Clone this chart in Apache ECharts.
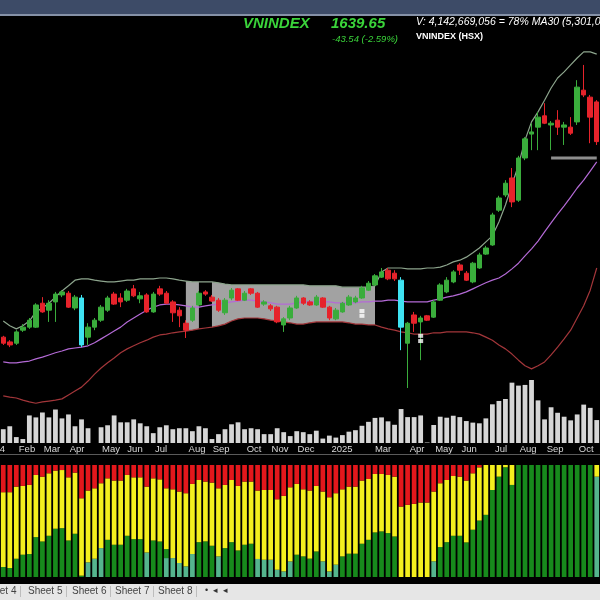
<!DOCTYPE html>
<html><head><meta charset="utf-8">
<script src="https://cdn.jsdelivr.net/npm/echarts@6/dist/echarts.min.js"></script>
<style>html,body{margin:0;padding:0;background:#000;overflow:hidden}#c{width:600px;height:600px}</style>
</head><body><div id="c"></div>
<script>
// ---------- DATA ----------
const weeks = Array.from({length: 92}, (_, i) => 'W' + (i + 1));
// weekly candles [open, close, low, high]
const ohlc = [
[1190,1176,1172,1193],[1179,1172,1167,1183],[1176,1202,1172,1206],[1206,1213,1202,1220],[1213,1229,1209,1234],
[1213,1264,1211,1268],[1268,1248,1246,1282],[1252,1268,1225,1275],[1271,1289,1225,1294],[1287,1294,1282,1298],
[1291,1259,1257,1296],[1257,1282,1252,1287],[1280,1172,1167,1287],[1190,1213,1172,1222],[1213,1229,1206,1234],
[1229,1259,1225,1264],[1252,1280,1248,1285],[1289,1266,1264,1294],[1280,1271,1259,1291],[1275,1296,1271,1301],
[1301,1285,1282,1310],[1278,1285,1268,1294],[1287,1248,1246,1291],[1248,1289,1246,1294],[1301,1289,1285,1308],
[1291,1268,1266,1296],[1271,1246,1225,1275],[1252,1239,1213,1259],[1222,1206,1188,1229],[1229,1257,1225,1262],
[1264,1291,1262,1296],[1294,1289,1285,1298],[1282,1273,1271,1287],[1275,1252,1248,1280],[1246,1275,1241,1280],
[1280,1298,1275,1303],[1301,1275,1273,1303],[1275,1291,1273,1296],[1301,1291,1287,1303],[1291,1259,1257,1294],
[1266,1271,1262,1275],[1262,1255,1250,1266],[1259,1225,1222,1262],[1218,1232,1202,1236],[1234,1257,1229,1262],
[1257,1280,1255,1285],[1280,1268,1264,1282],[1271,1264,1262,1275],[1264,1282,1262,1287],[1280,1259,1257,1282],
[1259,1234,1229,1262],[1232,1252,1229,1257],[1248,1268,1246,1271],[1264,1282,1262,1287],[1271,1280,1268,1285],
[1280,1303,1278,1308],[1298,1314,1296,1319],[1310,1331,1308,1335],[1328,1340,1326,1349],[1344,1324,1321,1349],
[1337,1324,1319,1344],[1321,1213,1160,1328],[1176,1222,1073,1225],[1241,1222,1202,1248],[1225,1234,1137,1239],
[1239,1229,1227,1241],[1236,1271,1234,1275],[1275,1310,1273,1314],[1294,1321,1291,1328],[1317,1340,1314,1344],
[1356,1344,1333,1360],[1337,1321,1319,1342],[1317,1360,1314,1363],[1349,1379,1347,1384],[1381,1395,1379,1400],
[1402,1471,1400,1476],[1482,1510,1478,1515],[1517,1544,1512,1551],[1556,1501,1489,1579],[1505,1602,1501,1607],
[1602,1646,1597,1650],[1657,1662,1620,1682],[1673,1696,1620,1708],[1699,1682,1680,1728],[1678,1682,1620,1687],
[1689,1673,1655,1712],[1673,1678,1632,1685],[1673,1659,1655,1696],[1685,1765,1678,1781],[1758,1747,1742,1816],
[1742,1696,1636,1747],[1731,1639.65,1632,1735]
];
const cyanWeeks = [12, 61];
const upperBand = [1227,1216,1209,1216,1227,1248,1257,1268,1282,1296,1308,1321,1324,1324,1321,1319,1317,1317,1319,1321,
1321,1324,1324,1324,1326,1326,1324,1321,1319,1317,1317,1317,1317,1315,1312,1310,1310,1310,1310,1310,
1310,1310,1310,1310,1310,1310,1310,1308,1308,1308,1308,1308,1305,1305,1305,1305,1305,1308,1340,1349,
1349,1349,1347,1347,1347,1349,1349,1351,1356,1363,1367,1374,1384,1395,1409,1423,1455,1494,1540,1586,
1643,1685,1708,1735,1763,1786,1800,1816,1832,1846,1846,1841];
const midBand = [1133,1131,1131,1133,1135,1140,1144,1149,1154,1158,1163,1165,1167,1170,1177,1186,1195,1204,1213,1225,
1234,1243,1252,1259,1264,1266,1266,1264,1262,1259,1259,1262,1264,1266,1269,1271,1273,1275,1275,1273,
1271,1269,1266,1266,1266,1269,1271,1271,1271,1271,1271,1269,1269,1269,1269,1271,1271,1273,1273,1275,
1275,1273,1271,1271,1271,1271,1275,1278,1282,1285,1289,1294,1301,1308,1315,1321,1326,1335,1347,1360,
1377,1393,1411,1432,1453,1473,1492,1512,1533,1551,1572,1593];
const lowerBand = [1055,1052,1050,1045,1041,1038,1041,1043,1045,1048,1057,1066,1075,1089,1105,1119,1131,1142,1154,1163,
1170,1177,1183,1190,1195,1197,1200,1202,1204,1206,1209,1211,1213,1216,1220,1227,1232,1234,1234,1234,
1232,1229,1227,1225,1223,1220,1220,1223,1225,1225,1225,1225,1225,1223,1220,1220,1218,1218,1213,1209,
1206,1202,1200,1197,1197,1197,1200,1200,1202,1202,1202,1202,1200,1197,1190,1183,1172,1163,1151,1137,
1124,1117,1124,1133,1149,1167,1186,1206,1234,1262,1298,1349];
const squeezeRanges = [[28, 30], [32, 57]];
const supportLevel = 1602, supportFromWeek = 84;
const signalMarks = [[55, 1250], [55, 1239], [64, 1193], [64, 1181]];
// weekly volume (millions of shares)
const volume = [1400,1700,600,400,2800,2600,3100,2600,3400,2500,2900,1700,2400,1500,null,1600,1800,2800,2100,2100,
2400,2000,1700,1000,1600,1800,1400,1500,1500,1200,1700,1500,400,900,1400,1900,2100,1400,1500,1400,
900,900,1500,1100,700,1200,1100,900,1250,450,750,550,800,1150,1300,1750,2150,2550,2600,2200,
1850,3450,2630,2630,2800,50,1830,2670,2570,2770,2630,2230,2070,2000,2500,3930,4270,4470,6130,5830,
5900,6400,4330,2400,3630,3070,2670,2300,2900,3900,3570,2330];
// market breadth shares (%)
const breadthRed = [24.3,24.3,19.3,18.7,17.8,8.9,10.4,7.4,5.0,4.5,11.0,6.8,29.7,22.8,20.8,16.3,11.9,13.9,13.9,8.9,
11.0,11.0,19.3,11.9,12.8,20.8,21.7,23.7,25.2,16.9,13.4,14.8,15.7,20.8,17.8,13.4,18.7,14.8,14.8,22.8,
22.3,22.3,30.6,27.6,19.9,16.9,21.7,22.8,18.7,23.7,28.8,25.2,21.7,19.3,19.3,13.9,12.5,8.0,8.0,8.9,
10.4,37.1,35.6,34.7,33.5,33.5,23.7,16.3,13.4,9.8,10.4,13.9,7.4,2.1,0,0,0,0,0,0,
0,0,0,0,0,0,0,0,0,0,0,0];
const breadthYellow = [66.8,67.7,64.4,61.4,61.7,55.5,57.9,55.8,51.9,51.9,56.4,54.6,69.1,64.1,62.9,57.9,54.9,57.3,57.3,54.3,
55.2,55.2,58.8,55.5,55.5,54.3,61.4,63.8,65.3,62.6,55.5,53.4,56.4,60.8,56.4,55.5,57.6,56.4,55.5,61.1,
62.3,62.3,62.9,67.4,66.2,63.2,59.9,60.8,58.5,62.3,66.2,63.8,59.9,59.9,59.9,56.4,54.3,52.2,51.3,51.9,
53.4,62.9,64.4,65.3,66.5,66.5,62.3,57.0,55.5,53.4,52.8,55.2,50.4,47.5,44.5,22.3,10.4,2.0,17.8,0,
0,0,0,0,0,0,0,0,0,0,0,10.4];
const breadthGreen = [8.9,8.0,16.3,19.9,20.5,35.6,31.7,36.8,43.1,43.6,32.6,38.6,1.2,0,0,0,33.2,28.8,28.8,36.8,
33.8,33.8,0,32.6,31.7,8.0,0,0,0,0,31.1,31.8,27.9,0,25.8,31.1,23.7,28.8,29.7,0,
0,0,0,0,0,19.9,18.4,16.4,22.8,0,0,0,18.4,20.8,20.8,29.7,33.2,39.8,40.7,39.2,
36.2,0,0,0,0,0,0,26.7,31.1,36.8,36.8,30.9,42.2,50.4,55.5,77.7,89.6,98.0,82.2,100,
100,100,100,100,100,100,100,100,100,100,100,0];
const breadthTeal = [0,0,0,0,0,0,0,0,0,0,0,0,0,13.1,16.3,25.8,0,0,0,0,
0,0,21.9,0,0,16.9,16.9,12.5,9.5,20.5,0,0,0,18.4,0,0,0,0,0,16.1,
15.4,15.4,6.5,5.0,13.9,0,0,0,0,14.0,5.0,11.0,0,0,0,0,0,0,0,0,
0,0,0,0,0,0,14.0,0,0,0,0,0,0,0,0,0,0,0,0,0,
0,0,0,0,0,0,0,0,0,0,0,89.6];
// month tick labels at fractional week positions (year label is cut by the left edge as in the original)
const yearLabel = '2024', yearLabelPos = -0.5;
const tickPos = [3.64,7.47,11.31,16.52,20.2,24.19,29.71,33.4,38.46,42.44,46.43,51.95,58.24,63.45,67.6,71.43,76.34,80.48,84.62,89.38];
const tickText = ['Feb','Mar','Apr','May','Jun','Jul','Aug','Sep','Oct','Nov','Dec','2025','Mar','Apr','May','Jun','Jul','Aug','Sep','Oct'];
const sheetTabs = ['Sheet 4','Sheet 5','Sheet 6','Sheet 7','Sheet 8'];

// ---------- BUILD ----------
const UP = '#3aad3c', DOWN = '#e6232b', CY = '#3fe3f2';
const FONT = 'Liberation Sans, Arial, sans-serif';
const LBL = 9.5;
const inRange = i => squeezeRanges.some(r => i >= r[0] && i <= r[1]);
const fillBase = lowerBand.map((v, i) => inRange(i) ? v : null);
const fillSpan = upperBand.map((v, i) => inRange(i) ? v - lowerBand[i] : null);
const support = weeks.map((_, i) => i >= supportFromWeek ? supportLevel : null);
const candleData = ohlc.map((d, i) => cyanWeeks.includes(i)
  ? {value: d, itemStyle: {color: CY, color0: CY, borderColor: CY, borderColor0: CY}} : d);

const hidX = (grid) => ({type: 'category', gridIndex: grid, data: weeks, show: false, boundaryGap: true, position: 'bottom'});
const hidY = (grid, min, max) => ({type: 'value', gridIndex: grid, min, max, show: false});

const tabGraphics = [];
const tabX = [-18, 28, 72, 115, 158];
sheetTabs.forEach((t, k) => {
  tabGraphics.push({type: 'text', x: tabX[k], y: 591, style: {text: t, fill: '#444', fontSize: 10, fontFamily: FONT, verticalAlign: 'middle'}});
  tabGraphics.push({type: 'rect', shape: {x: tabX[k] + 38, y: 586, width: 1, height: 11}, style: {fill: '#bdbdbd'}});
});

const chart = echarts.init(document.getElementById('c'), null, {renderer: 'canvas'});
chart.setOption({
  backgroundColor: '#000',
  animation: false,
  grid: [
    {left: 0, right: 0, top: 28.43, bottom: 180.26},
    {left: 0, right: 0, top: 380, bottom: 157},
    {left: 0, right: 0, top: 465, bottom: 23}
  ],
  xAxis: [
    hidX(0), hidX(1),
    {type: 'value', gridIndex: 1, min: -0.5, max: 91.5, position: 'bottom', offset: 0,
     axisLine: {show: false}, axisTick: {show: false}, splitLine: {show: false},
     axisLabel: {customValues: tickPos, margin: 1.5,
       color: '#d9d9d9', fontSize: LBL, fontFamily: FONT,
       formatter: v => {
         const j = tickPos.findIndex(p => Math.abs(p - v) < 1e-6);
         return j < 0 ? '' : tickText[j];
       }
     }},
    hidX(2)
  ],
  yAxis: [hidY(0, 1000, 1900), hidY(1, 0, 6400), hidY(2, 0, 100)],
  series: [
    {type: 'line', xAxisIndex: 0, yAxisIndex: 0, stack: 'sq', data: fillBase, symbol: 'none', silent: true,
     lineStyle: {width: 0, opacity: 0}, z: 1},
    {type: 'line', xAxisIndex: 0, yAxisIndex: 0, stack: 'sq', data: fillSpan, symbol: 'none', silent: true,
     lineStyle: {width: 0, opacity: 0}, areaStyle: {color: '#a2a2a2', opacity: 1}, z: 1},
    {type: 'line', xAxisIndex: 0, yAxisIndex: 0, data: upperBand, symbol: 'none', lineStyle: {color: '#8da58d', width: 1.2}, z: 2},
    {type: 'line', xAxisIndex: 0, yAxisIndex: 0, data: midBand, symbol: 'none', lineStyle: {color: '#b46ad6', width: 1.2}, z: 2},
    {type: 'line', xAxisIndex: 0, yAxisIndex: 0, data: lowerBand, symbol: 'none', lineStyle: {color: '#a3363a', width: 1.2}, z: 2},
    {type: 'line', xAxisIndex: 0, yAxisIndex: 0, data: support, symbol: 'none', lineStyle: {color: '#8e8e8e', width: 3}, z: 2},
    {type: 'candlestick', xAxisIndex: 0, yAxisIndex: 0, data: candleData, barWidth: 5, z: 3,
     itemStyle: {color: UP, color0: DOWN, borderColor: UP, borderColor0: DOWN, borderWidth: 1}},
    {type: 'scatter', xAxisIndex: 0, yAxisIndex: 0, data: signalMarks, symbol: 'rect', symbolSize: [5, 4],
     itemStyle: {color: '#ffffff'}, z: 4},
    {type: 'bar', xAxisIndex: 1, yAxisIndex: 1, data: volume, barWidth: 4.8, itemStyle: {color: '#d6d6d6'}},
    {type: 'bar', xAxisIndex: 3, yAxisIndex: 2, stack: 'b', data: breadthTeal, barWidth: 4.7, itemStyle: {color: '#55b58e'}},
    {type: 'bar', xAxisIndex: 3, yAxisIndex: 2, stack: 'b', data: breadthGreen, barWidth: 4.7, itemStyle: {color: '#178a1c'}},
    {type: 'bar', xAxisIndex: 3, yAxisIndex: 2, stack: 'b', data: breadthYellow, barWidth: 4.7, itemStyle: {color: '#f4ef1e'}},
    {type: 'bar', xAxisIndex: 3, yAxisIndex: 2, stack: 'b', data: breadthRed, barWidth: 4.7, itemStyle: {color: '#e3171c'}}
  ],
  graphic: [
    {type: 'rect', shape: {x: 0, y: 0, width: 600, height: 14}, style: {fill: '#3d4b67'}},
    {type: 'rect', shape: {x: 0, y: 14, width: 600, height: 2}, style: {fill: '#8591a7'}},
    {type: 'text', x: 243, y: 24, style: {text: 'VNINDEX', fill: '#3ad43a', fontSize: 15, fontWeight: 'bold', fontStyle: 'italic', fontFamily: FONT, verticalAlign: 'middle'}},
    {type: 'text', x: 331, y: 24, style: {text: '1639.65', fill: '#3ad43a', fontSize: 15, fontWeight: 'bold', fontStyle: 'italic', fontFamily: FONT, verticalAlign: 'middle'}},
    {type: 'text', x: 332, y: 39, style: {text: '-43.54 (-2.59%)', fill: '#3ad43a', fontSize: 9.5, fontStyle: 'italic', fontFamily: FONT, verticalAlign: 'middle'}},
    {type: 'text', x: 416, y: 22, style: {text: 'V: 4,142,669,056 = 78% MA30 (5,301,0', fill: '#ffffff', fontSize: 10.5, fontStyle: 'italic', fontFamily: FONT, verticalAlign: 'middle'}},
    {type: 'text', x: 416, y: 37, style: {text: 'VNINDEX (HSX)', fill: '#ffffff', fontSize: 9, fontWeight: 'bold', fontFamily: FONT, verticalAlign: 'middle'}},
    {type: 'rect', shape: {x: 0, y: 454, width: 600, height: 1}, style: {fill: '#5a5a5a'}},
    {type: 'rect', shape: {x: 0, y: 584, width: 600, height: 16}, style: {fill: '#e6e6e6'}},
    ...tabGraphics,
    {type: 'text', x: 205, y: 591, style: {text: '•  ◂  ◂', fill: '#333', fontSize: 9, fontFamily: FONT, verticalAlign: 'middle'}}
  ]
});
// year label: placed at its axis position, cut by the left edge as in the original
const yx = chart.convertToPixel({xAxisIndex: 2}, yearLabelPos);
const yy = chart.convertToPixel({yAxisIndex: 1}, 0);
chart.setOption({graphic: [{id: 'yearLbl', type: 'text', x: yx + 5, y: yy + 1.5,
  style: {text: yearLabel, fill: '#d9d9d9', fontSize: LBL, fontFamily: FONT, align: 'right', verticalAlign: 'top'}}]});
</script></body></html>
